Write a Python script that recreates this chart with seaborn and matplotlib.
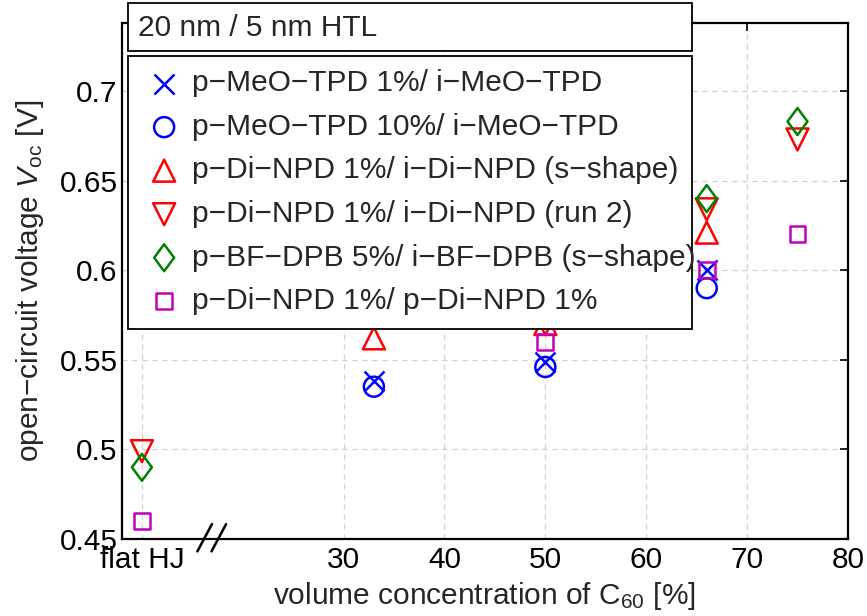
import matplotlib
matplotlib.use("Agg")
import matplotlib.pyplot as plt
import seaborn as sns
from matplotlib.path import Path
from matplotlib.patches import Rectangle
import matplotlib.transforms as mtransforms

# -----------------------------
# Data
# -----------------------------
FLAT_HJ = 10  # position of the "flat HJ" reference on the concentration axis

meo1_x = [33, 50, 66]
meo1_y = [0.538, 0.549, 0.600]

meo10_x = [33, 50, 66]
meo10_y = [0.535, 0.546, 0.590]

dinpd_s_x = [33, 50, 66]
dinpd_s_y = [0.562, 0.570, 0.621]

dinpd_r2_x = [FLAT_HJ, 50, 66, 75]
dinpd_r2_y = [0.499, 0.570, 0.634, 0.673]

bfdpb_x = [FLAT_HJ, 50, 66, 75]
bfdpb_y = [0.490, 0.580, 0.640, 0.683]

ref_x = [FLAT_HJ, 50, 66, 75]
ref_y = [0.460, 0.560, 0.600, 0.620]

labels = [
    "p\u2212MeO\u2212TPD 1%/ i\u2212MeO\u2212TPD",
    "p\u2212MeO\u2212TPD 10%/ i\u2212MeO\u2212TPD",
    "p\u2212Di\u2212NPD 1%/ i\u2212Di\u2212NPD (s\u2212shape)",
    "p\u2212Di\u2212NPD 1%/ i\u2212Di\u2212NPD (run 2)",
    "p\u2212BF\u2212DPB 5%/ i\u2212BF\u2212DPB (s\u2212shape)",
    "p\u2212Di\u2212NPD 1%/ p\u2212Di\u2212NPD 1%",
]

x_ticks = [FLAT_HJ, 30, 40, 50, 60, 70, 80]
x_ticklabels = ["flat HJ", "30", "40", "50", "60", "70", "80"]
y_ticks = [0.45, 0.5, 0.55, 0.6, 0.65, 0.7]
y_ticklabels = ["0.45", "0.5", "0.55", "0.6", "0.65", "0.7"]

# -----------------------------
# Style
# -----------------------------
sns.set_style("white")
plt.rcParams["font.family"] = ["Liberation Sans", "DejaVu Sans"]
plt.rcParams["mathtext.fontset"] = "custom"
plt.rcParams["mathtext.rm"] = "Liberation Sans"
plt.rcParams["mathtext.it"] = "Liberation Sans:italic"

FS = 21.5
diamond = Path([(0, 1), (0.74, 0), (0, -1), (-0.74, 0), (0, 1)],
               [Path.MOVETO, Path.LINETO, Path.LINETO, Path.LINETO, Path.CLOSEPOLY])

series = [
    (meo1_x, meo1_y, "x", "#0000ff", 14.4),
    (meo10_x, meo10_y, "o", "#0000ff", 14.4),
    (dinpd_s_x, dinpd_s_y, "^", "#ff0000", 15.8),
    (dinpd_r2_x, dinpd_r2_y, "v", "#ff0000", 15.8),
    (bfdpb_x, bfdpb_y, diamond, "#008000", 19.4),
    (ref_x, ref_y, "s", "#bf00bf", 11.5),
]

fig = plt.figure(figsize=(8.67, 6.16), dpi=100)
ax = fig.add_axes([0.1404, 0.125, 0.978 - 0.1404, 0.9627 - 0.125])

handles = []
for (xs, ys, mk, col, ms), lab in zip(series, labels):
    if mk == "x":
        sns.scatterplot(x=xs, y=ys, marker=mk, color=col, s=ms ** 2,
                        linewidth=1.8, ax=ax, label=lab, legend=False)
    else:
        sns.scatterplot(x=xs, y=ys, marker=mk, color=col, facecolor="none",
                        edgecolor=col, s=ms ** 2, linewidth=1.8, ax=ax,
                        label=lab, legend=False)
    handles.append(ax.collections[-1])

ax.set_xlim(8, 80)
ax.set_ylim(0.45, 0.738)
ax.set_xticks(x_ticks)
ax.set_xticklabels(x_ticklabels)
ax.set_yticks(y_ticks)
ax.set_yticklabels(y_ticklabels)
ax.tick_params(direction="in", length=6, width=1.2, labelsize=FS,
               top=True, right=True, pad=5, colors="black")
ax.tick_params(axis="y", pad=3)
for sp in ax.spines.values():
    sp.set_linewidth(1.6)
    sp.set_color("black")
    sp.set_visible(True)

ax.grid(True, linestyle=(0, (4, 4)), color="#cfcfcf", linewidth=0.9)
ax.set_axisbelow(True)

ax.set_xlabel("volume concentration of C$_{60}$ [%]", fontsize=FS, labelpad=4)
ax.set_ylabel("open\u2212circuit voltage $V_{\\rm oc}$ [V]", fontsize=FS, labelpad=10)

# axis break marks "//" on the x axis
trans = mtransforms.blended_transform_factory(ax.transData, ax.transAxes)
for bx in (15.5, 16.9):
    ax.plot([bx, bx + 1.45], [-0.024, 0.029], color="black", lw=1.8,
            transform=trans, clip_on=False)

# title box above the legend
W, H = 867.0, 616.0
fig.patches.append(Rectangle((128 / W, 1 - 51 / H), (692 - 128) / W, 48 / H,
                             transform=fig.transFigure, facecolor="white",
                             edgecolor="black", linewidth=1.3, zorder=5))
fig.text(138 / W, 1 - 28 / H, "20 nm / 5 nm HTL", fontsize=FS, va="center",
         ha="left", zorder=6)

leg = ax.legend(handles, labels, loc="upper left",
                bbox_to_anchor=(128 / W, 1 - 330 / H, (692 - 128) / W, 274 / H),
                bbox_transform=fig.transFigure, mode="expand", borderaxespad=0,
                fontsize=FS, frameon=True, fancybox=False, framealpha=1,
                edgecolor="black", borderpad=0.45, handlelength=1.52,
                handletextpad=0.17, labelspacing=0.52, scatterpoints=1)
leg.get_frame().set_linewidth(1.3)

plt.savefig("out.png", dpi=100)
